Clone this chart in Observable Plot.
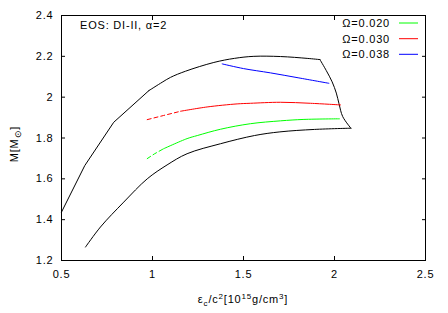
<!DOCTYPE html>
<html><head><meta charset="utf-8">
<script src="https://cdn.jsdelivr.net/npm/d3@7"></script>
<script src="https://cdn.jsdelivr.net/npm/@observablehq/plot@0.6"></script>
<style>body{margin:0;background:#fff} svg{font-family:"Liberation Sans",Arial,sans-serif} svg text{letter-spacing:0.8px}</style>
</head><body><div id="chart"></div><script>
const xTicks = [0.5, 1, 1.5, 2, 2.5];
const yTicks = [1.2, 1.4, 1.6, 1.8, 2.0, 2.2, 2.4];

// black boundary, in three smooth pieces plus the straight upper-left segments
const lowerX = [0.632,0.714,0.842,0.971,1.08,1.19,1.374,1.56,1.70,1.89,2.09];
const lowerY = [1.266,1.364,1.486,1.600,1.668,1.723,1.772,1.812,1.830,1.842,1.848];
const rightX = [2.09,2.045,2.025,2.01,1.987,1.955,1.92];
const rightY = [1.848,1.905,1.967,2.02,2.075,2.13,2.184];
const upperX = [1.92,1.85,1.703,1.557,1.45,1.337,1.181,1.099,1.053,0.98];
const upperY = [2.184,2.19,2.199,2.200,2.19,2.170,2.127,2.097,2.073,2.032];
const upperLeftX = [0.98,0.787,0.628,0.5];
const upperLeftY = [2.032,1.877,1.665,1.437];

const seriesNames = ["Ω=0.020", "Ω=0.030", "Ω=0.038"];
const seriesColors = ["#00ff00", "#ff0000", "#0000ff"];

// Ω=0.020 (green)
const g_dashX = [0.971, 1.01, 1.06];
const g_dashY = [1.699, 1.722, 1.747];
const g_X = [1.06, 1.19, 1.246, 1.374, 1.538, 1.703, 1.832, 2.027];
const g_Y = [1.747, 1.797, 1.812, 1.843, 1.870, 1.884, 1.891, 1.894];
// Ω=0.030 (red)
const r_dashX = [0.971, 1.06, 1.154];
const r_dashY = [1.890, 1.910, 1.931];
const r_X = [1.154, 1.30, 1.465, 1.538, 1.703, 1.868, 2.033];
const r_Y = [1.931, 1.952, 1.967, 1.970, 1.975, 1.970, 1.962];
// Ω=0.038 (blue)
const b_X = [1.383, 1.50, 1.648, 1.80, 1.969];
const b_Y = [2.163, 2.140, 2.119, 2.095, 2.068];

const pts = (xs, ys) => xs.map((x, i) => ({x, y: ys[i]}));
const smooth = (xs, ys, stroke, extra = {}) =>
  Plot.line(pts(xs, ys), {x: "x", y: "y", stroke, strokeWidth: 1, curve: "catmull-rom", ...extra});

const plot = Plot.plot({
  width: 448, height: 313,
  marginLeft: 61, marginRight: 23, marginTop: 15, marginBottom: 53,
  x: {domain: [0.5, 2.5]},
  y: {domain: [1.2, 2.4]},
  style: {fontFamily: '"Liberation Sans", Arial, sans-serif', fontSize: "11px", color: "#000", background: "#fff"},
  marks: [
    Plot.axisX(xTicks, {anchor: "bottom", tickSize: -4, tickPadding: 14, tickFormat: d => String(d), label: null}),
    Plot.axisX(xTicks, {anchor: "top", tickSize: -4, tickFormat: () => "", label: null}),
    Plot.axisY(yTicks, {anchor: "left", tickSize: -4, tickPadding: 12, tickFormat: d => String(d), label: null}),
    Plot.axisY(yTicks, {anchor: "right", tickSize: -4, tickFormat: () => "", label: null}),
    smooth(lowerX, lowerY, "#000"),
    smooth(rightX, rightY, "#000"),
    smooth(upperX, upperY, "#000"),
    Plot.line(pts(upperLeftX, upperLeftY), {x: "x", y: "y", stroke: "#000", strokeWidth: 1}),
    Plot.line(pts(g_dashX, g_dashY), {x: "x", y: "y", stroke: seriesColors[0], strokeWidth: 1, strokeDasharray: "4,3"}),
    smooth(g_X, g_Y, seriesColors[0]),
    Plot.line(pts(r_dashX, r_dashY), {x: "x", y: "y", stroke: seriesColors[1], strokeWidth: 1, strokeDasharray: "4,3"}),
    smooth(r_X, r_Y, seriesColors[1]),
    smooth(b_X, b_Y, seriesColors[2]),
    Plot.frame({stroke: "#000"})
  ]
});
document.getElementById("chart").appendChild(plot);

const svg = d3.select(plot);
const g = svg.append("g").attr("font-size", 11).attr("fill", "#000").attr("text-anchor", "start");

// x label
const xl = g.append("text").attr("x", 243).attr("y", 303).attr("text-anchor", "middle");
xl.append("tspan").text("ε");
xl.append("tspan").attr("dy", 3).attr("font-size", 8).text("c");
xl.append("tspan").attr("dy", -3).text("/c");
xl.append("tspan").attr("dy", -4).attr("font-size", 8).text("2");
xl.append("tspan").attr("dy", 4).text("[10");
xl.append("tspan").attr("dy", -4).attr("font-size", 8).text("15");
xl.append("tspan").attr("dy", 4).text("g/cm");
xl.append("tspan").attr("dy", -4).attr("font-size", 8).text("3");
xl.append("tspan").attr("dy", 4).text("]");

// y label
const yl = g.append("text").attr("transform", "translate(18,144) rotate(-90)").attr("text-anchor", "middle");
yl.append("tspan").text("M[M");
yl.append("tspan").attr("dy", 3).attr("font-size", 9).text("⊙");
yl.append("tspan").attr("dy", -3).text("]");

// annotation
g.append("text").attr("x", 80).attr("y", 29).attr("text-anchor", "start").text("EOS: DI-II, α=2");

// legend
const legY = [23, 38.7, 54.3];
seriesNames.forEach((name, i) => {
  g.append("text").attr("x", 390).attr("y", legY[i] + 4).attr("text-anchor", "end").text(name);
  g.append("line").attr("x1", 399).attr("x2", 418).attr("y1", legY[i]).attr("y2", legY[i])
    .attr("stroke", seriesColors[i]).attr("stroke-width", 1);
});
</script></body></html>
